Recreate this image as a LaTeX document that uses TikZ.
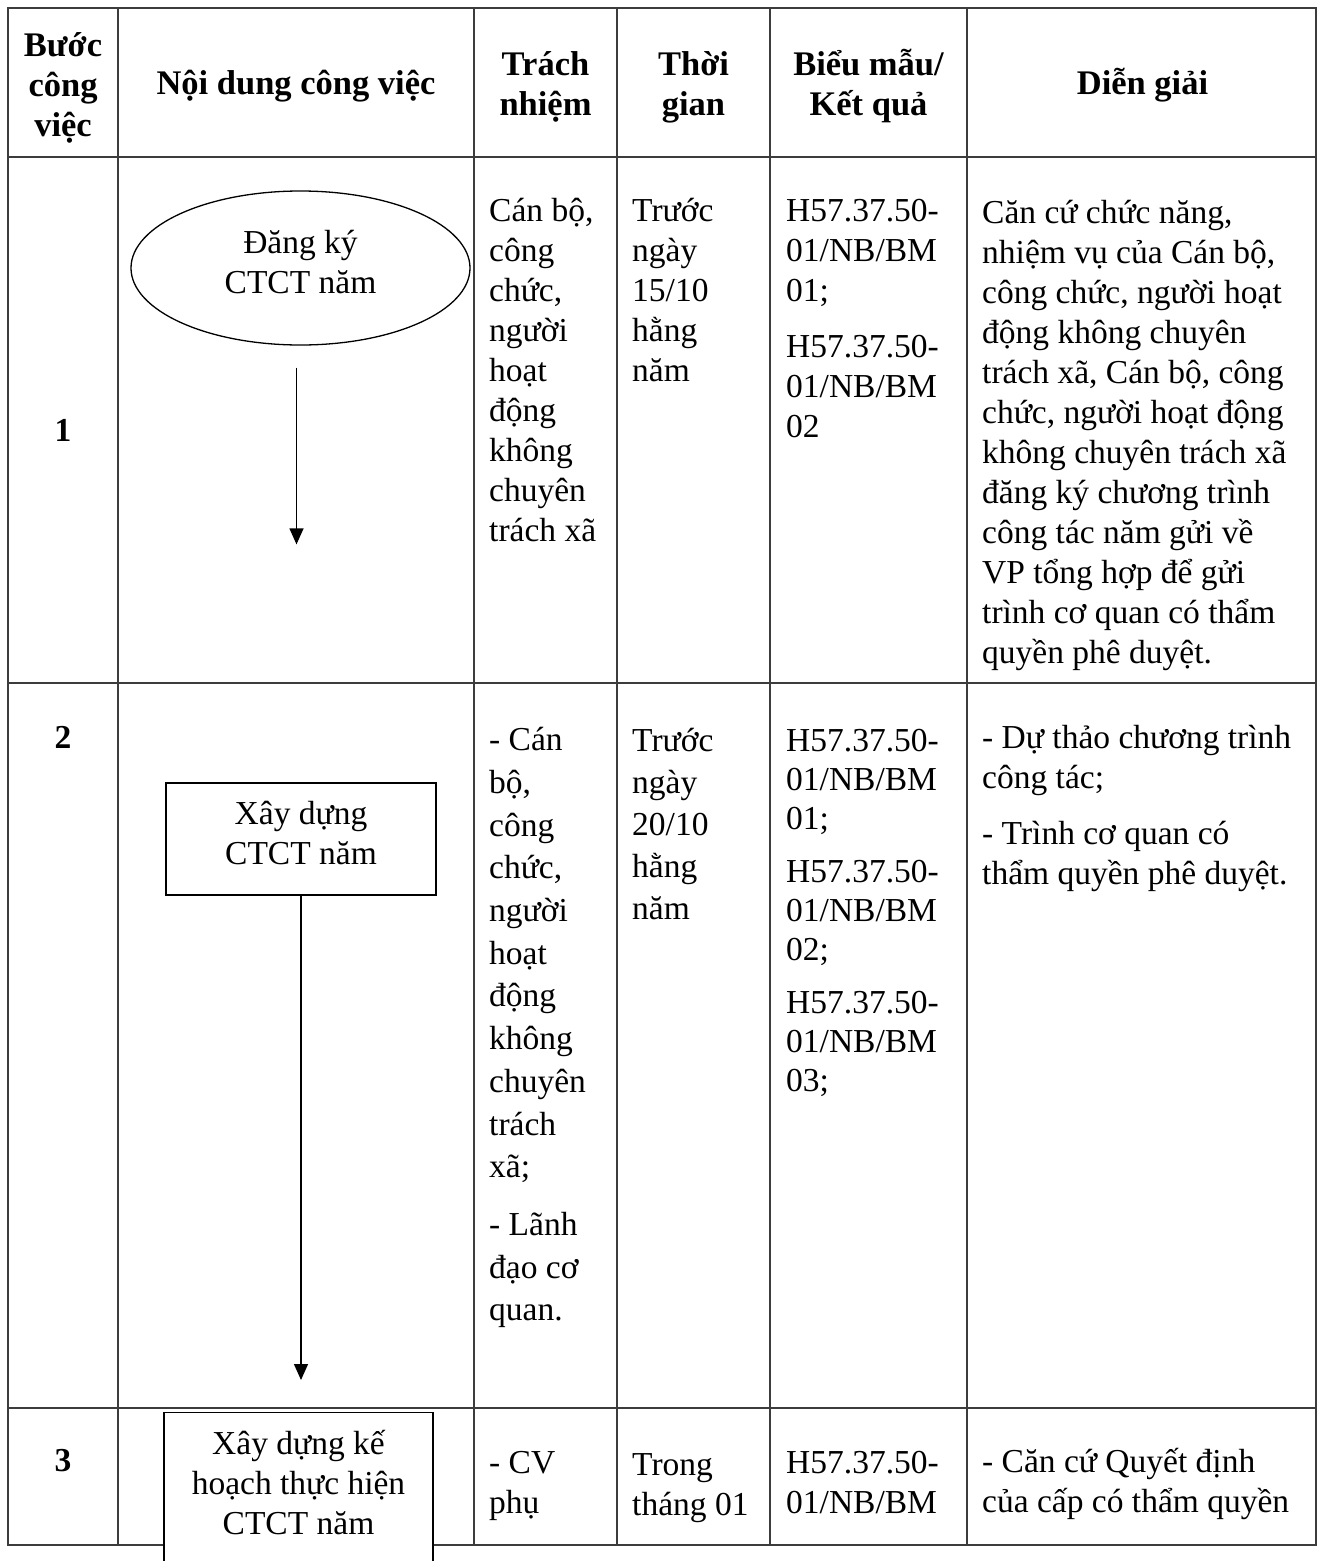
\documentclass[tikz,border=0pt]{standalone}
\usepackage{fontspec}
\setmainfont{Liberation Serif}
\usetikzlibrary{shapes.geometric, arrows.meta}
\definecolor{gridgray}{RGB}{60,60,60}

\tikzset{
  grid line/.style={draw=gridgray, line width=1.4pt},
  headtext/.style={font=\bfseries\fontsize{34.5}{40}\selectfont, align=center, anchor=north, inner sep=0pt},
  celltext/.style={font=\fontsize{33.5}{40}\selectfont, align=left, anchor=north west, inner sep=0pt},
  stepnum/.style={font=\bfseries\fontsize{33.5}{40}\selectfont, anchor=base, inner sep=0pt},
  flowend/.style={ellipse, draw, line width=1.3pt, minimum width=339pt, minimum height=154pt, inner sep=0pt, font=\fontsize{33.5}{40}\selectfont, align=center},
  flowbox/.style={rectangle, draw, fill=white, line width=1.3pt, inner sep=0pt, font=\fontsize{33.5}{40}\selectfont, align=center},
  flowarrow/.style={-{Triangle[length=16pt,width=14pt]}, line width=1.3pt}
}

\begin{document}
\begin{tikzpicture}[x=1pt,y=-1pt]
                    \useasboundingbox (0,0) rectangle (1324,1561);
                    \fill[white] (0,0) rectangle (1324,1561);
                    \clip (0,0) rectangle (1324,1561);

                    \draw[grid line] (8,8) rectangle (1316,1545);
                    \foreach \x in {118,474,617,770,967}
                        \draw[grid line] (\x,8) -- (\x,1545);
                    \foreach \y in {157,683,1408}
                        \draw[grid line] (8,\y) -- (1316,\y);

                    \node[headtext] (hstep) at (63,28) {\strut Bước\\công\\việc};
                    \node[headtext] (htask) at (296,66) {\strut Nội dung công việc};
                    \node[headtext] (hresp) at (545.5,47) {\strut Trách\\nhiệm};
                    \node[headtext] (htime) at (693.5,47) {\strut Thời\\gian};
                    \node[headtext] (hform) at (868.5,47) {\strut Biểu mẫu/\\Kết quả};
                    \node[headtext] (hnote) at (1142.5,66) {\strut Diễn giải};

                    \node[stepnum] (num1) at (63,441) {1};
                    \node[stepnum] (num2) at (63,748) {2};
                    \node[stepnum] (num3) at (63,1471) {3};

                    \node[celltext] (resp1) at (489,193.4) {\strut Cán bộ,\\công\\chức,\\người\\hoạt\\động\\không\\chuyên\\trách xã};
                    \node[celltext] (time1) at (632,193.4) {\strut Trước\\ngày\\15/10\\hằng\\năm};
                    \node[celltext] (form1) at (786,193.4) {\strut H57.37.50-\\01/NB/BM\\01;\\[16pt]H57.37.50-\\01/NB/BM\\02};
                    \node[celltext] (note1) at (982,195.4) {\strut Căn cứ chức năng,\\nhiệm vụ của Cán bộ,\\công chức, người hoạt\\động không chuyên\\trách xã, Cán bộ, công\\chức, người hoạt động\\không chuyên trách xã\\đăng ký chương trình\\công tác năm gửi về\\VP tổng hợp để gửi\\trình cơ quan có thẩm\\quyền phê duyệt.};

                    \node[celltext, font=\fontsize{33.5}{42.7}\selectfont] (resp2) at (489,720.6) {\strut - Cán\\bộ,\\công\\chức,\\người\\hoạt\\động\\không\\chuyên\\trách\\xã;\\[15pt]- Lãnh\\đạo cơ\\quan.};
                    \node[celltext, font=\fontsize{33.5}{42}\selectfont] (time2) at (632,722) {\strut Trước\\ngày\\20/10\\hằng\\năm};
                    \node[celltext, font=\fontsize{33.5}{39}\selectfont] (form2) at (786,724) {\strut H57.37.50-\\01/NB/BM\\01;\\[14pt]H57.37.50-\\01/NB/BM\\02;\\[14pt]H57.37.50-\\01/NB/BM\\03;};
                    \node[celltext] (note2) at (982,720.4) {\strut - Dự thảo chương trình\\công tác;\\[16pt]- Trình cơ quan có\\thẩm quyền phê duyệt.};

                    \node[celltext] (resp3) at (489,1445.4) {\strut - CV\\phụ};
                    \node[celltext] (time3) at (632,1447.4) {\strut Trong\\tháng 01};
                    \node[celltext] (form3) at (786,1445.4) {\strut H57.37.50-\\01/NB/BM};
                    \node[celltext] (note3) at (982,1444.4) {\strut - Căn cứ Quyết định\\của cấp có thẩm quyền};

                    \node[flowend] (reg) at (300.5,268) {Đăng ký\\CTCT năm\strut};
                    \node[flowbox, minimum width=270pt, minimum height=112pt] (build) at (301,839) {Xây dựng\\CTCT năm\strut};
                    \node[flowbox, minimum width=269pt, inner xsep=8pt, inner ysep=18pt, anchor=north] (plan) at (298.5,1412) {Xây dựng kế\\hoạch thực hiện\\CTCT năm\\[40pt]\strut};

                    \draw[flowarrow, shorten <=22pt, shorten >=238pt] ([xshift=-4pt]reg.south) -- ([xshift=-4pt]reg.south |- build.north);
                    \draw[flowarrow, shorten >=32pt] (build.south) -- (build.south |- plan.north);
                \end{tikzpicture}
\end{document}
